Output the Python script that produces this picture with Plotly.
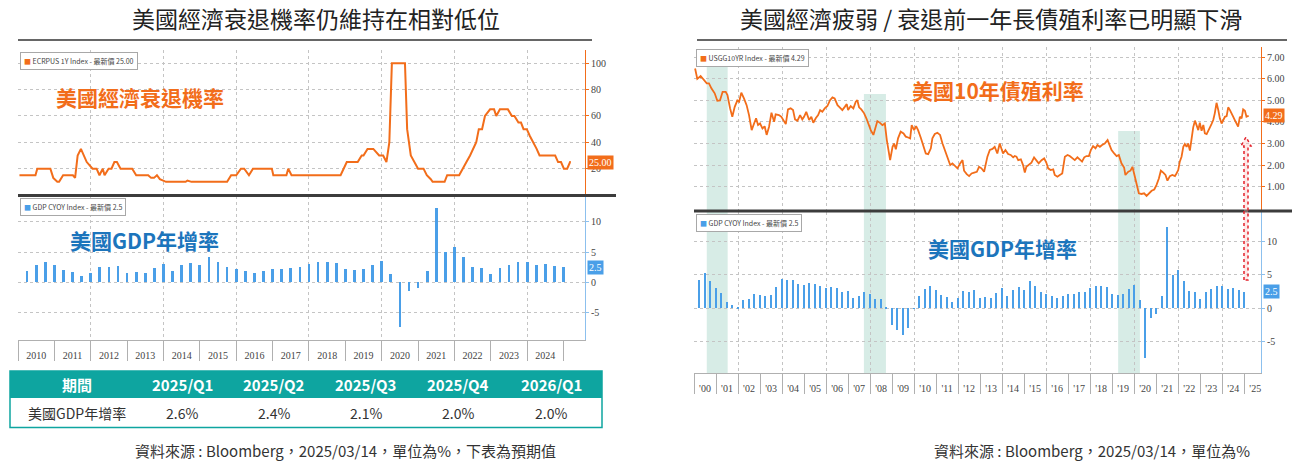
import plotly.graph_objects as go

W, H = 1300, 463

# --- data ---
# ECRPUS 1Y Index: US recession probability (%), x in decimal years
rec_t = [2010.04, 2010.48, 2010.53, 2010.89, 2010.97, 2011.08, 2011.13, 2011.24, 2011.51, 2011.57,
         2011.64, 2011.73, 2011.89, 2012.05, 2012.16, 2012.24, 2012.33, 2012.38, 2012.49, 2012.57,
         2012.65, 2012.72, 2012.82, 2013.14, 2013.25, 2013.58, 2013.66, 2013.74, 2013.82, 2013.90,
         2014.07, 2014.61, 2014.66, 2014.77, 2015.75, 2015.86, 2016.00, 2016.13, 2016.22, 2016.35,
         2016.46, 2016.98, 2017.02, 2017.38, 2017.43, 2017.52, 2018.87, 2019.04, 2019.34, 2019.45,
         2019.50, 2019.61, 2019.77, 2019.93, 2020.04, 2020.13, 2020.21, 2020.28, 2020.64, 2020.70,
         2020.80, 2020.91, 2021.00, 2021.15, 2021.24, 2021.35, 2021.40, 2021.73, 2021.80, 2022.13,
         2022.22, 2022.33, 2022.43, 2022.52, 2022.60, 2022.67, 2022.76, 2022.84, 2022.92, 2022.98,
         2023.09, 2023.15, 2023.25, 2023.47, 2023.58, 2023.65, 2023.76, 2023.83, 2023.90, 2023.99,
         2024.07, 2024.17, 2024.26, 2024.34, 2024.77, 2024.85, 2024.93, 2025.01, 2025.10, 2025.18,
         2025.20]
rec_v = [15, 15, 20, 20, 13, 10, 10, 15, 15, 13,
         30, 35, 25, 20, 20, 15, 20, 15, 20, 20,
         25, 25, 20, 20, 15, 15, 13, 13, 15, 12,
         10, 10, 11, 10, 10, 15, 15, 20, 20, 15,
         20, 20, 15, 15, 20, 15, 15, 25, 25, 30,
         30, 35, 35, 30, 30, 25, 40, 100, 100, 50,
         30, 25, 20, 20, 15, 12, 10, 10, 15, 15,
         20, 25, 30, 35, 40, 50, 50, 60, 63, 65,
         65, 60, 65, 65, 60, 60, 55, 55, 50, 50,
         45, 40, 35, 30, 30, 25, 25, 20, 20, 25,
         25]

# USGG10YR Index: US 10Y treasury yield (%), x in decimal years
yield_t = [2000.05, 2000.15, 2000.30, 2000.45, 2000.58, 2000.68, 2000.79, 2000.94,
           2001.06, 2001.18, 2001.30, 2001.44, 2001.52, 2001.64, 2001.74, 2001.85, 2001.97,
           2002.05, 2002.15, 2002.27, 2002.39, 2002.50, 2002.62, 2002.73, 2002.82, 2002.91,
           2003.00, 2003.11, 2003.21, 2003.30, 2003.41, 2003.52, 2003.64, 2003.71, 2003.86, 2003.97,
           2004.09, 2004.17, 2004.27, 2004.39, 2004.50, 2004.59, 2004.70, 2004.82, 2004.92,
           2005.00, 2005.10, 2005.23, 2005.33, 2005.42, 2005.53, 2005.64, 2005.73, 2005.83, 2005.94,
           2006.06, 2006.18, 2006.29, 2006.39, 2006.52, 2006.62, 2006.74, 2006.85, 2006.94,
           2007.00, 2007.12, 2007.24, 2007.35, 2007.42, 2007.50, 2007.60, 2007.73, 2007.83, 2007.91,
           2008.03, 2008.15, 2008.26, 2008.33, 2008.45, 2008.56, 2008.67, 2008.76, 2008.91,
           2009.02, 2009.09, 2009.17, 2009.27, 2009.39, 2009.52, 2009.62, 2009.73, 2009.82, 2009.89,
           2010.00, 2010.09, 2010.18, 2010.30, 2010.42, 2010.53, 2010.64, 2010.76, 2010.83, 2010.94,
           2011.06, 2011.18, 2011.29, 2011.39, 2011.52, 2011.64, 2011.74, 2011.85, 2011.97,
           2012.09, 2012.20, 2012.27, 2012.39, 2012.50, 2012.61, 2012.73, 2012.85, 2012.95,
           2013.06, 2013.18, 2013.33, 2013.44, 2013.56, 2013.66, 2013.78, 2013.89, 2013.97,
           2014.04, 2014.15, 2014.27, 2014.39, 2014.50, 2014.57, 2014.65, 2014.73, 2014.85, 2014.95,
           2015.03, 2015.10, 2015.21, 2015.33, 2015.45, 2015.56, 2015.66, 2015.79, 2015.91,
           2016.01, 2016.09, 2016.20, 2016.32, 2016.39, 2016.51, 2016.62, 2016.73, 2016.85, 2016.97,
           2017.07, 2017.18, 2017.30, 2017.42, 2017.53, 2017.63, 2017.73, 2017.83, 2017.94,
           2018.03, 2018.13, 2018.24, 2018.33, 2018.44, 2018.54, 2018.66, 2018.79, 2018.89, 2018.97,
           2019.09, 2019.20, 2019.30, 2019.42, 2019.54, 2019.60, 2019.73, 2019.83, 2019.92,
           2020.03, 2020.15, 2020.21, 2020.33, 2020.45, 2020.56, 2020.66, 2020.79, 2020.91,
           2021.01, 2021.12, 2021.21, 2021.32, 2021.42, 2021.51, 2021.62, 2021.73, 2021.85, 2021.92,
           2022.00, 2022.07, 2022.15, 2022.23, 2022.30, 2022.38, 2022.45, 2022.53, 2022.60, 2022.68,
           2022.76, 2022.83, 2022.91, 2022.98,
           2023.06, 2023.14, 2023.21, 2023.29, 2023.36, 2023.44, 2023.51, 2023.59, 2023.66, 2023.74,
           2023.82, 2023.89, 2023.97,
           2024.04, 2024.12, 2024.20, 2024.27, 2024.35, 2024.42, 2024.50, 2024.57, 2024.65, 2024.72,
           2024.80, 2024.88, 2024.95,
           2025.03, 2025.10, 2025.20]
yield_v = [6.48, 6.00, 6.13, 5.94, 5.79, 5.79, 5.56, 5.33,
           4.98, 5.00, 5.40, 5.40, 5.25, 4.63, 4.24, 4.70, 5.00,
           4.94, 5.36, 5.09, 4.78, 4.32, 3.62, 3.93, 4.17, 3.86,
           3.93, 3.70, 3.80, 3.40, 3.78, 4.43, 4.01, 4.35, 4.32, 4.24,
           4.01, 3.90, 4.58, 4.63, 4.55, 4.12, 4.06, 4.32, 4.12,
           4.24, 4.47, 4.09, 4.24, 3.96, 4.17, 4.32, 4.55, 4.47, 4.63,
           4.74, 5.01, 5.14, 5.09, 4.78, 4.68, 4.55, 4.70, 4.83,
           4.55, 4.74, 4.63, 4.94, 5.01, 4.68, 4.58, 4.40, 4.17, 3.93,
           3.62, 3.40, 3.78, 4.04, 3.96, 3.85, 3.93, 3.16, 2.23,
           2.85, 3.00, 2.73, 3.24, 3.55, 3.47, 3.32, 3.28, 3.24, 3.85,
           3.62, 3.81, 3.62, 3.28, 2.93, 2.54, 2.51, 2.78, 3.24, 3.44,
           3.50, 3.40, 3.00, 2.70, 2.39, 2.00, 2.08, 1.96, 1.85,
           2.08, 2.23, 1.74, 1.58, 1.49, 1.61, 1.65, 1.69, 1.92,
           1.85, 1.69, 2.39, 2.70, 2.75, 2.85, 2.54, 3.00, 2.78,
           2.54, 2.70, 2.51, 2.47, 2.36, 2.42, 2.39, 2.23, 2.27, 2.00,
           1.65, 1.92, 2.00, 2.11, 2.36, 2.20, 2.08, 2.23, 2.31,
           2.11, 1.85, 1.77, 1.80, 1.54, 1.46, 1.54, 1.61, 2.39, 2.47,
           2.42, 2.31, 2.23, 2.36, 2.27, 2.16, 2.36, 2.42, 2.42,
           2.70, 2.88, 2.78, 2.93, 2.85, 2.93, 3.00, 3.16, 2.93, 2.70,
           2.54, 2.42, 2.47, 2.08, 1.89, 1.54, 1.69, 1.74, 1.92,
           1.46, 1.07, 0.69, 0.66, 0.69, 0.57, 0.69, 0.81, 0.87,
           1.07, 1.38, 1.74, 1.65, 1.54, 1.28, 1.49, 1.54, 1.49, 1.61,
           1.77, 2.16, 2.39, 2.85, 2.98, 2.85, 3.00, 2.67, 3.16, 3.75,
           4.06, 3.86, 3.62, 3.97,
           3.59, 3.86, 3.47, 3.44, 3.62, 3.75, 3.90, 4.09, 4.40, 4.89,
           4.55, 4.17, 3.93,
           4.06, 4.24, 4.27, 4.68, 4.55, 4.37, 4.24, 4.09, 3.90, 3.78,
           4.24, 4.17, 4.58,
           4.52, 4.24, 4.29]
assert len(yield_t) == len(yield_v) and len(rec_t) == len(rec_v)

# GDP CYOY Index: US real GDP YoY (%), quarterly from 2000Q1 to 2024Q4
gdp_first_year = 2000
gdp_yoy = [4.2, 5.3, 4.1, 3.0,  2.3, 1.0, 0.5, 0.2,  1.3, 1.4, 2.1, 2.0,  1.8, 2.0, 3.2, 4.4,
           4.3, 4.2, 3.6, 3.5,  3.8, 3.6, 3.4, 3.1,  3.2, 3.0, 2.4, 2.6,  1.6, 1.9, 2.4, 2.2,
           1.4, 1.4, 0.1, -2.5, -3.2, -4.0, -3.0, -0.1,  1.8, 2.9, 3.3, 2.8,  2.0, 1.7, 1.0, 1.6,
           2.6, 2.5, 2.7, 1.6,  1.7, 1.5, 2.3, 3.0,  1.8, 2.8, 3.2, 2.8,  4.1, 3.4, 2.5, 2.2,
           1.9, 1.6, 1.8, 2.2,  2.2, 2.4, 2.5, 3.0,  3.3, 3.3, 3.2, 2.2,  2.0, 2.2, 2.9, 3.5,
           1.3, -7.4, -1.4, -0.9,  1.8, 12.2, 5.0, 5.8,  4.1, 2.6, 2.4, 1.4,  2.4, 2.9, 3.3, 3.3,
           2.9, 3.0, 2.7, 2.5]

left_years = list(range(2010, 2025))
right_years = list(range(2000, 2026))

# shaded windows: the year before each recession
shade_start = [2000.58, 2007.72, 2019.27]
shade_end = [2001.53, 2008.72, 2020.26]
shade_top = [6.8, 5.3, 3.58]

# forecast table
table_head = ["期間", "2025/Q1", "2025/Q2", "2025/Q3", "2025/Q4", "2026/Q1"]
table_row_label = "美國GDP年增率"
forecast_gdp = [2.6, 2.4, 2.1, 2.0, 2.0]

# --- styling ---
ORANGE = "#f26d1a"
BLUE = "#4a9fe8"
LABEL_BLUE = "#1c75bc"
TEAL = "#0ea5a0"
GRID = "#c4c4c4"
CJK = "Noto Sans CJK TC"
tick_font = dict(family="Liberation Serif", size=10, color="#444")
TABLE_COL_X = [77, 182, 274, 366, 458, 551]   # column centres in px


def xp(px):
    return px / W


def yp(py):
    return 1 - py / H


gdp_t = [gdp_first_year + (i + 1) / 4 for i in range(len(gdp_yoy))]
left_gdp_t = [t for t in gdp_t if t > 2010]
left_gdp_v = gdp_yoy[len(gdp_t) - len(left_gdp_t):]

fig = go.Figure()
fig.add_trace(go.Scatter(x=rec_t, y=rec_v, mode="lines", line=dict(color=ORANGE, width=2),
                         xaxis="x", yaxis="y", showlegend=False))
fig.add_trace(go.Bar(x=left_gdp_t, y=left_gdp_v, width=0.075, marker=dict(color=BLUE, line_width=0),
                     xaxis="x2", yaxis="y2", showlegend=False))
fig.add_trace(go.Scatter(x=yield_t, y=yield_v, mode="lines", line=dict(color=ORANGE, width=1.8),
                         xaxis="x3", yaxis="y3", showlegend=False))
fig.add_trace(go.Bar(x=gdp_t, y=gdp_yoy, width=0.06, marker=dict(color=BLUE, line_width=0),
                     xaxis="x4", yaxis="y4", showlegend=False))
# empty traces so the grid-only overlay axes get drawn
fig.add_trace(go.Scatter(x=[], y=[], xaxis="x5", yaxis="y2", showlegend=False))
fig.add_trace(go.Scatter(x=[], y=[], xaxis="x6", yaxis="y4", showlegend=False))

left_dom = [xp(18), xp(585)]
right_dom = [xp(694), xp(1261)]
left_rng = [2010, 2025.59]
right_rng = [2000, 2025.76]

grid_x = dict(showgrid=True, gridcolor=GRID, griddash="dot", gridwidth=1, dtick=2,
              showticklabels=False, ticks="", zeroline=False, showline=False)


def label_axis(dom, rng, anchor, years, fmt):
    return dict(domain=dom, range=rng, anchor=anchor, tickmode="array",
                tickvals=[y + 0.5 for y in years], ticktext=[fmt(y) for y in years],
                ticks="outside", ticklen=6, tickcolor="rgba(0,0,0,0)", showgrid=False,
                zeroline=False, showline=True, linecolor="#b0b0b0", linewidth=1,
                tickfont=tick_font,
                minor=dict(dtick=1, tick0=0, ticks="outside", ticklen=20,
                           tickcolor="#b0b0b0", showgrid=False))


def value_axis(dom, rng, anchor, vals, text, color):
    return dict(domain=dom, range=rng, anchor=anchor, side="right", tickmode="array",
                tickvals=vals, ticktext=text, showgrid=True, gridcolor=GRID, griddash="dot",
                zeroline=False, showline=True, linecolor=color, linewidth=1,
                ticks="outside", ticklen=3, tickcolor=color, tickfont=tick_font)


fig.update_layout(
    width=W, height=H, margin=dict(l=0, r=0, t=0, b=0),
    paper_bgcolor="white", plot_bgcolor="white", bargap=0,
    font=dict(family=CJK),
    xaxis=dict(domain=left_dom, range=left_rng, anchor="y", tick0=2010, **grid_x),
    yaxis=value_axis([yp(195), yp(50)], [0, 110.06], "x", [20, 40, 60, 80, 100],
                     ["20", "40", "60", "80", "100"], ORANGE),
    xaxis2=label_axis(left_dom, left_rng, "y2", left_years, str),
    yaxis2=value_axis([yp(340), yp(196)], [-9.52, 14.24], "x2", [-5, 0, 5, 10],
                      ["-5", "0", "5", "10"], "#8cc0ee"),
    xaxis5=dict(domain=left_dom, range=left_rng, anchor="y2", overlaying="x2", tick0=2010, **grid_x),
    xaxis3=dict(domain=right_dom, range=right_rng, anchor="y3", tick0=2000, **grid_x),
    yaxis3=value_axis([yp(210), yp(47)], [-0.083, 7.477], "x3", [1, 2, 3, 4, 5, 6, 7],
                      ["1.00", "2.00", "3.00", "4.00", "5.00", "6.00", "7.00"], ORANGE),
    xaxis4=label_axis(right_dom, right_rng, "y4", right_years, lambda y: "'%02d" % (y % 100)),
    yaxis4=value_axis([yp(373), yp(212)], [-9.70, 14.44], "x4", [-5, 0, 5, 10],
                      ["-5", "0", "5", "10"], "#8cc0ee"),
    xaxis6=dict(domain=right_dom, range=right_rng, anchor="y4", overlaying="x4", tick0=2000, **grid_x),
)

shapes = []
# shaded "year before recession" windows across both right panels
for s, e, top in zip(shade_start, shade_end, shade_top):
    shapes.append(dict(type="rect", xref="x3", yref="y3", x0=s, x1=e, y0=-0.083, y1=top,
                       fillcolor="rgba(150,205,188,0.38)", line_width=0, layer="below"))
    shapes.append(dict(type="rect", xref="x4", yref="y4 domain", x0=s, x1=e, y0=0, y1=1,
                       fillcolor="rgba(150,205,188,0.38)", line_width=0, layer="below"))

# title underlines and panel separators
for x0, x1, y, w, c in [(18, 592, 40, 1.5, "#333"), (697, 1287, 40, 1.5, "#333"),
                        (18, 616, 195.5, 3, "#3c3c3c"), (694, 1292, 211, 3, "#3c3c3c")]:
    shapes.append(dict(type="line", xref="paper", yref="paper", x0=xp(x0), x1=xp(x1),
                       y0=yp(y), y1=yp(y), line=dict(color=c, width=w)))

# forecast table: teal header band and teal frame
shapes.append(dict(type="rect", xref="paper", yref="paper", x0=xp(10), x1=xp(602),
                   y0=yp(398), y1=yp(371), fillcolor=TEAL, line_width=0))
shapes.append(dict(type="rect", xref="paper", yref="paper", x0=xp(10), x1=xp(602),
                   y0=yp(427.5), y1=yp(371), line=dict(color=TEAL, width=1.5)))

# hollow dotted red arrow on the right panel
arrow = [(1244, 280), (1244, 146), (1241, 146), (1246, 137), (1251, 146), (1248, 146), (1248, 280)]
path = "M " + " L ".join("%.5f,%.5f" % (xp(a), yp(b)) for a, b in arrow) + " Z"
shapes.append(dict(type="path", xref="paper", yref="paper", path=path,
                   fillcolor="rgba(255,190,190,0.35)", line=dict(color="#e3202a", width=1.5, dash="dot")))
fig.update_layout(shapes=shapes)

ann = []


def legend_box(xaxis, yaxis, text, color):
    ann.append(dict(xref=xaxis + " domain", yref=yaxis + " domain", x=0.004, y=0.985,
                    xanchor="left", yanchor="top", showarrow=False,
                    text='<span style="color:%s">■</span> %s' % (color, text),
                    font=dict(size=7, color="#444"), bgcolor="white",
                    bordercolor="#a8a8a8", borderwidth=1, borderpad=3))


def last_tag(xaxis, yaxis, value, text, color):
    ann.append(dict(xref=xaxis + " domain", yref=yaxis, x=1, y=value, xanchor="left",
                    yanchor="middle", xshift=2, showarrow=False, text=text, bgcolor=color,
                    font=dict(family="Liberation Serif", size=10, color="white"), borderpad=1))


def centered(text, x, y, font):
    ann.append(dict(xref="paper", yref="paper", x=xp(x), y=yp(y), xanchor="center",
                    yanchor="middle", showarrow=False, text=text, font=font))


legend_box("x", "y", "ECRPUS 1Y Index - 最新價 25.00", ORANGE)
legend_box("x2", "y2", "GDP CYOY Index - 最新價 2.5", BLUE)
legend_box("x3", "y3", "USGG10YR Index - 最新價 4.29", ORANGE)
legend_box("x4", "y4", "GDP CYOY Index - 最新價 2.5", BLUE)
last_tag("x", "y", rec_v[-1], "%.2f" % rec_v[-1], ORANGE)
last_tag("x2", "y2", gdp_yoy[-1], "%.1f" % gdp_yoy[-1], BLUE)
last_tag("x3", "y3", yield_v[-1], "%.2f" % yield_v[-1], ORANGE)
last_tag("x4", "y4", gdp_yoy[-1], "%.1f" % gdp_yoy[-1], BLUE)

for text, x, y, color in [("美國經濟衰退機率", 140, 97, ORANGE), ("美國GDP年增率", 144, 240, LABEL_BLUE),
                          ("美國10年債殖利率", 998, 90, ORANGE), ("美國GDP年增率", 1002, 248, LABEL_BLUE)]:
    centered("<b>%s</b>" % text, x, y, dict(family=CJK, size=21, color=color))

for text, x in [("美國經濟衰退機率仍維持在相對低位", 316), ("美國經濟疲弱 / 衰退前一年長債殖利率已明顯下滑", 991)]:
    centered(text, x, 18, dict(family=CJK, size=23, color="#222"))

for text, x in [("資料來源 : Bloomberg，2025/03/14，單位為%，下表為預期值", 345),
                ("資料來源 : Bloomberg，2025/03/14，單位為%", 1092)]:
    centered(text, x, 450, dict(family=CJK, size=15, color="#333"))

# table text
body_row = [table_row_label] + ["%.1f%%" % v for v in forecast_gdp]
for x, head, cell in zip(TABLE_COL_X, table_head, body_row):
    centered("<b>%s</b>" % head, x, 384.5, dict(family=CJK, size=15, color="white"))
    centered(cell, x, 412.5, dict(family=CJK, size=14, color="#333"))
fig.update_layout(annotations=ann)

# the page's default body margin would push the figure 8px right and down
fig.write_html("out.html", config={"displayModeBar": False},
               post_script="document.body.style.margin = '0';")
